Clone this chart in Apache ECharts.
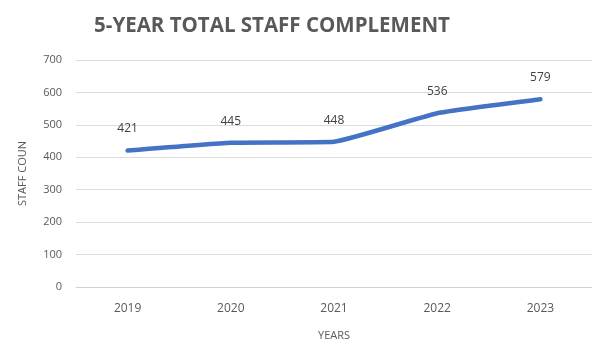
<!DOCTYPE html>
<html>
<head>
<meta charset="utf-8">
<script src="https://cdn.jsdelivr.net/npm/echarts@6/dist/echarts.min.js"></script>
<style>
  html, body { margin: 0; padding: 0; background: #fff; }
  #chart { width: 592px; height: 346px; }
</style>
</head>
<body>
<div id="chart"></div>
<script>
// Staff headcount per year
const years = ['2019', '2020', '2021', '2022', '2023'];
const staffCount = [421, 445, 448, 536, 579];
const yTicks = { min: 0, max: 700, interval: 100 };

const chart = echarts.init(document.getElementById('chart'), null, { renderer: 'canvas' });
const font = 'Open Sans, Noto Sans, sans-serif';

chart.setOption({
  animation: false,
  title: {
    text: '5-YEAR TOTAL STAFF COMPLEMENT',
    left: 267,
    textAlign: 'center',
    top: 11,
    textStyle: { fontFamily: font, fontSize: 20.5, fontWeight: 'bold', color: '#595959' }
  },
  grid: { left: 76, width: 521, top: 60, height: 234 },
  xAxis: {
    type: 'category',
    data: years,
    boundaryGap: true,
    name: 'YEARS',
    nameLocation: 'middle',
    nameGap: 43,
    nameTextStyle: { fontFamily: font, fontSize: 11, color: '#595959' },
    axisLine: { lineStyle: { color: '#d0d0d0', width: 1 } },
    axisTick: { show: false },
    axisLabel: { fontFamily: font, fontSize: 12, color: '#595959', margin: 16 }
  },
  yAxis: {
    type: 'value',
    min: yTicks.min,
    max: yTicks.max,
    interval: yTicks.interval,
    name: 'STAFF COUN',
    nameLocation: 'middle',
    nameGap: 48,
    nameTextStyle: { fontFamily: font, fontSize: 11, color: '#595959' },
    axisLine: { show: false },
    axisTick: { show: false },
    axisLabel: { fontFamily: font, fontSize: 11, color: '#595959', margin: 14 },
    splitLine: { lineStyle: { color: '#dcdcdc', width: 1 } }
  },
  series: [{
    type: 'line',
    data: staffCount,
    smooth: 0.12,
    symbol: 'circle',
    symbolSize: 3,
    showSymbol: true,
    lineStyle: { color: '#4472C4', width: 4.5, cap: 'round' },
    itemStyle: { color: '#4472C4', borderWidth: 0 },
    label: {
      show: true,
      position: 'top',
      distance: 14,
      fontFamily: font,
      fontSize: 12,
      color: '#404040'
    }
  }]
});
</script>
</body>
</html>
